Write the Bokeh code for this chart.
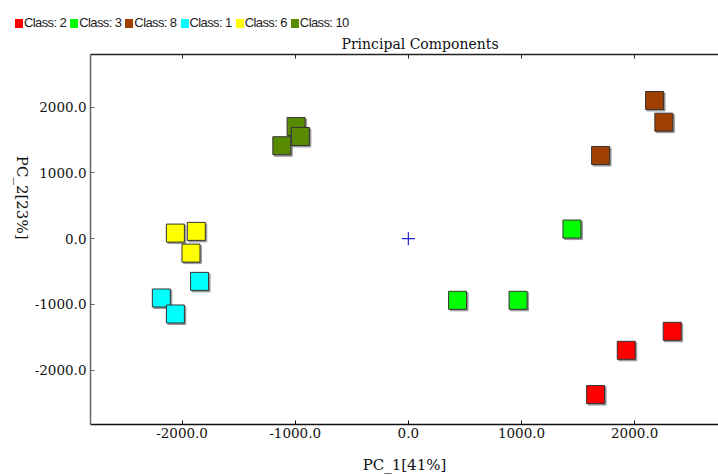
from bokeh.plotting import figure
from bokeh.layouts import column
from bokeh.models import (ColumnDataSource, Range1d, LinearAxis, FixedTicker,
                          PrintfTickFormatter, Div)
from bokeh.transform import dodge
from bokeh.embed import file_html
from bokeh.resources import INLINE

# ---- data ----
class_labels = ["Class: 2", "Class: 3", "Class: 8", "Class: 1", "Class: 6", "Class: 10"]
class_colors = ["#FF0000", "#00FF00", "#A04000", "#00FFFF", "#FFFF00", "#588A00"]

class2_pc1 = [2332, 1926, 1655]
class2_pc2 = [-1408, -1697, -2370]
class3_pc1 = [1446, 435, 970]
class3_pc2 = [146, -937, -937]
class8_pc1 = [2176, 2258, 1699]
class8_pc2 = [2101, 1771, 1265]
class1_pc1 = [-1845, -2183, -2059]
class1_pc2 = [-649, -902, -1145]
class6_pc1 = [-2059, -1874, -1921]
class6_pc2 = [85, 111, -219]
class10_pc1 = [-992, -954, -1118]
class10_pc2 = [1706, 1554, 1413]

origin_pc1 = [0.0]
origin_pc2 = [0.0]

axis_ticks = [-2000, -1000, 0, 1000, 2000]

series_x = [class2_pc1, class3_pc1, class8_pc1, class1_pc1, class6_pc1, class10_pc1]
series_y = [class2_pc2, class3_pc2, class8_pc2, class1_pc2, class6_pc2, class10_pc2]

# ---- legend strip (HTML) ----
parts = []
for name, col in zip(class_labels, class_colors):
    parts.append(
        '<span style="display:inline-block;width:8px;height:9px;background:%s;'
        'margin-right:1px;vertical-align:-1px"></span>'
        '<span style="display:inline-block;margin-right:4px">%s</span>' % (col, name))
legend_html = ('<div style="font-family:\'Liberation Sans\',Arial,sans-serif;font-size:13px;'
               'letter-spacing:-0.6px;color:#222222;padding:16px 0 0 15px;white-space:nowrap;'
               'line-height:13px">' + "".join(parts) + "</div>")
lg = Div(text=legend_html, width=718, height=30, margin=(0, 0, 0, 0))

# ---- main plot ----
p = figure(width=718, height=446, output_backend="svg", toolbar_location=None,
           x_range=Range1d(-2809, 2741), y_range=Range1d(-2825, 2800),
           x_axis_location=None, y_axis_location=None,
           title="Principal Components",
           min_border_left=89, min_border_right=0, min_border_top=24, min_border_bottom=52)
for g in p.grid:
    g.visible = False
p.outline_line_color = None
p.background_fill_color = "white"
p.border_fill_color = "white"

p.title.text_font = "DejaVu Serif"
p.title.text_font_size = "14px"
p.title.text_font_style = "normal"
p.title.text_color = "#111111"
p.title.align = "left"
p.title.offset = 251
p.title.standoff = 5

def style_axis(ax, line_color):
    ax.axis_line_color = line_color
    ax.axis_line_width = 1.5
    ax.major_tick_line_color = line_color
    ax.major_tick_in = 4
    ax.major_tick_out = 0
    ax.minor_tick_in = 0
    ax.minor_tick_out = 0
    ax.major_label_text_font = "DejaVu Serif"
    ax.major_label_text_font_size = "13.5px"
    ax.major_label_text_color = "#111111"
    ax.axis_label_text_font = "DejaVu Serif"
    ax.axis_label_text_font_size = "15px"
    ax.axis_label_text_font_style = "normal"
    ax.axis_label_text_color = "#111111"

xaxis = LinearAxis(ticker=FixedTicker(ticks=axis_ticks),
                   formatter=PrintfTickFormatter(format="%.1f"),
                   axis_label="PC_1[41%]")
style_axis(xaxis, "#111111")
xaxis.major_label_standoff = 3
xaxis.axis_label_standoff = 15
p.add_layout(xaxis, "below")

yaxis = LinearAxis(ticker=FixedTicker(ticks=axis_ticks),
                   formatter=PrintfTickFormatter(format="%.1f"),
                   axis_label="PC_2[23%]")
style_axis(yaxis, "#666666")
yaxis.major_label_standoff = 4
yaxis.axis_label_standoff = 10
if "axis_label_orientation" in LinearAxis.properties():
    yaxis.axis_label_orientation = -1.5707963267948966
p.add_layout(yaxis, "left")

topaxis = LinearAxis(ticker=FixedTicker(ticks=axis_ticks),
                     major_label_overrides={t: "" for t in axis_ticks})
style_axis(topaxis, "#222222")
topaxis.major_label_standoff = 0
p.add_layout(topaxis, "above")

# ---- points ----
for xs, ys, col in zip(series_x, series_y, class_colors):
    src = ColumnDataSource(dict(x=xs, y=ys))
    p.scatter(x=dodge("x", 13, range=p.x_range), y=dodge("y", -23, range=p.y_range),
              source=src, marker="square", size=18,
              fill_color="#9a9a9a", line_color="#9a9a9a", line_width=1)
    p.scatter(x="x", y="y", source=src, marker="square", size=18,
              fill_color=col, line_color="#333333", line_width=1)

p.scatter(x=origin_pc1, y=origin_pc2, marker="cross", size=13,
          line_color="#2222CC", line_width=1.2)

layout = column(lg, p, spacing=0)
open("out.html", "w").write(file_html(layout, INLINE))
